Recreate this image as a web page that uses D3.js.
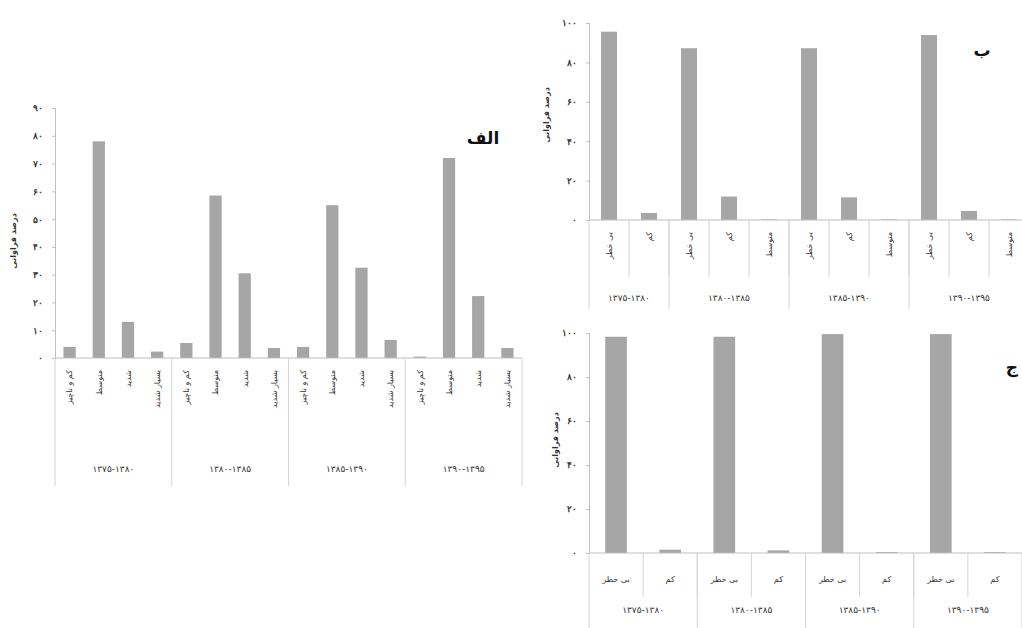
<!DOCTYPE html>
<html>
<head>
<meta charset="utf-8">
<script src="https://cdn.jsdelivr.net/npm/d3@7"></script>
<style>
  html, body { margin: 0; padding: 0; background: #fff; overflow: hidden; }
  svg { display: block; font-family: 'DejaVu Sans', sans-serif; }
</style>
</head>
<body>
<svg id="chart" width="1022" height="628"></svg>
<script>
// periods shared by all three panels
const periods = ['۱۳۷۵-۱۳۸۰', '۱۳۸۰-۱۳۸۵', '۱۳۸۵-۱۳۹۰', '۱۳۹۰-۱۳۹۵'];

// panel الف
const alefCats = [
  ['کم و ناچیز', 'متوسط', 'شدید', 'بسیار شدید'],
  ['کم و ناچیز', 'متوسط', 'شدید', 'بسیار شدید'],
  ['کم و ناچیز', 'متوسط', 'شدید', 'بسیار شدید'],
  ['کم و ناچیز', 'متوسط', 'شدید', 'بسیار شدید'],
];
const alefValues = [
  [4, 78, 13, 2.3],
  [5.4, 58.5, 30.5, 3.6],
  [4, 55, 32.5, 6.5],
  [0.5, 72, 22.3, 3.6],
];
const alefTickValues = [0, 10, 20, 30, 40, 50, 60, 70, 80, 90];
const alefTickLabels = ['۰', '۱۰', '۲۰', '۳۰', '۴۰', '۵۰', '۶۰', '۷۰', '۸۰', '۹۰'];

// panel ب
const beCats = [
  ['بی خطر', 'کم'],
  ['بی خطر', 'کم', 'متوسط'],
  ['بی خطر', 'کم', 'متوسط'],
  ['بی خطر', 'کم', 'متوسط'],
];
const beValues = [
  [95.6, 3.6],
  [87.2, 11.9, 0.3],
  [87.2, 11.5, 0.3],
  [93.9, 4.6, 0.3],
];

// panel ج
const jimCats = [
  ['بی خطر', 'کم'],
  ['بی خطر', 'کم'],
  ['بی خطر', 'کم'],
  ['بی خطر', 'کم'],
];
const jimValues = [
  [98.3, 1.5],
  [98.3, 1.2],
  [99.5, 0.4],
  [99.5, 0.4],
];
const pctTickValues = [0, 20, 40, 60, 80, 100];
const pctTickLabels = ['۰', '۲۰', '۴۰', '۶۰', '۸۰', '۱۰۰'];

const yTitle = 'درصد فراوانی';

const BAR = '#a6a6a6';
const AXIS = '#bfbfbf';
const SEP = '#d4d4d4';
const TEXT = '#333';

const svg = d3.select('#chart');

function drawPanel(cfg) {
  const g = svg.append('g');

  // flatten groups into cells
  const cells = [];
  cfg.cats.forEach((cats, gi) => {
    cats.forEach((c, ci) => cells.push({ group: gi, label: c, value: cfg.values[gi][ci], id: `${gi}-${ci}` }));
  });

  const x = d3.scaleBand().domain(cells.map((d) => d.id)).range([cfg.x0, cfg.x1]).padding(0);
  const y = d3.scaleLinear().domain([0, cfg.max]).range([cfg.y0, cfg.yTop]);

  // y axis
  const yAxis = d3.axisLeft(y)
    .tickValues(cfg.tickValues)
    .tickSize(3)
    .tickPadding(9)
    .tickFormat((d, i) => cfg.tickLabels[i]);
  const ya = g.append('g').attr('transform', `translate(${cfg.x0},0)`).call(yAxis);
  ya.select('.domain').attr('stroke', AXIS);
  ya.selectAll('.tick line').attr('stroke', AXIS);
  ya.selectAll('.tick text')
    .attr('fill', TEXT)
    .style('font-size', '9px')
    .style('font-weight', 'bold');

  // bars
  const bw = x.bandwidth() * cfg.barFrac;
  g.selectAll('rect.bar')
    .data(cells)
    .join('rect')
    .attr('class', 'bar')
    .attr('x', (d) => x(d.id) + (x.bandwidth() - bw) / 2)
    .attr('width', bw)
    .attr('y', (d) => y(d.value))
    .attr('height', (d) => y(0) - y(d.value))
    .attr('fill', BAR);

  // x axis line at zero
  g.append('line')
    .attr('x1', cfg.x0).attr('x2', cfg.x1)
    .attr('y1', y(0)).attr('y2', y(0))
    .attr('stroke', AXIS);

  // cell separators
  if (cfg.cellSepBottom) {
    g.selectAll('line.cellsep')
      .data(cells.filter((d, i) => i > 0))
      .join('line')
      .attr('class', 'cellsep')
      .attr('x1', (d) => x(d.id)).attr('x2', (d) => x(d.id))
      .attr('y1', y(0)).attr('y2', cfg.cellSepBottom)
      .attr('stroke', SEP);
  }

  // group separators
  const groupStarts = [];
  cfg.cats.forEach((cats, gi) => {
    const first = cells.find((d) => d.group === gi);
    const last = cells.filter((d) => d.group === gi).pop();
    groupStarts.push({ gi, left: x(first.id), right: x(last.id) + x.bandwidth() });
  });
  const edges = groupStarts.map((d) => d.left).concat([cfg.x1]);
  g.selectAll('line.groupsep')
    .data(edges)
    .join('line')
    .attr('class', 'groupsep')
    .attr('x1', (d) => d).attr('x2', (d) => d)
    .attr('y1', y(0)).attr('y2', cfg.groupSepBottom)
    .attr('stroke', SEP);

  // category labels
  const cl = g.selectAll('text.cat')
    .data(cells)
    .join('text')
    .attr('class', 'cat')
    .attr('fill', TEXT)
    .style('font-size', '8px')
    .text((d) => d.label);
  if (cfg.rotateCats) {
    cl.attr('text-anchor', 'end')
      .attr('dy', '0.35em')
      .attr('transform', (d) => `translate(${x(d.id) + x.bandwidth() / 2},${y(0) + cfg.catOffset}) rotate(-90)`);
  } else {
    cl.attr('text-anchor', 'middle')
      .attr('x', (d) => x(d.id) + x.bandwidth() / 2)
      .attr('y', y(0) + cfg.catOffset);
  }

  // period labels
  g.selectAll('text.period')
    .data(groupStarts)
    .join('text')
    .attr('class', 'period')
    .attr('fill', TEXT)
    .attr('text-anchor', 'middle')
    .attr('x', (d) => (d.left + d.right) / 2)
    .attr('y', cfg.periodY)
    .style('font-size', '9px')
    .text((d) => periods[d.gi]);

  // y title
  g.append('text')
    .attr('transform', `translate(${cfg.titleX},${cfg.titleY}) rotate(-90)`)
    .attr('text-anchor', 'middle')
    .attr('fill', TEXT)
    .style('font-size', '8px')
    .style('font-weight', 'bold')
    .text(yTitle);

  // panel letter
  g.append('text')
    .attr('x', cfg.letterX)
    .attr('y', cfg.letterY)
    .attr('text-anchor', 'middle')
    .attr('fill', '#111')
    .style('font-size', '17px')
    .style('font-weight', 'bold')
    .text(cfg.letter);
}

drawPanel({
  cats: alefCats, values: alefValues, max: 90,
  tickValues: alefTickValues, tickLabels: alefTickLabels,
  x0: 55, x1: 522, y0: 358, yTop: 108, barFrac: 0.42,
  rotateCats: true, catOffset: 12, cellSepBottom: null, groupSepBottom: 486,
  periodY: 472, titleX: 16, titleY: 241,
  letter: 'الف', letterX: 483, letterY: 144,
});

drawPanel({
  cats: beCats, values: beValues, max: 100,
  tickValues: pctTickValues, tickLabels: pctTickLabels,
  x0: 589, x1: 1029, y0: 220, yTop: 23, barFrac: 0.4,
  rotateCats: true, catOffset: 12, cellSepBottom: 277, groupSepBottom: 309,
  periodY: 301, titleX: 549, titleY: 115,
  letter: 'ب', letterX: 982, letterY: 56,
});

drawPanel({
  cats: jimCats, values: jimValues, max: 100,
  tickValues: pctTickValues, tickLabels: pctTickLabels,
  x0: 589, x1: 1022, y0: 553, yTop: 333, barFrac: 0.4,
  rotateCats: false, catOffset: 29, cellSepBottom: 597, groupSepBottom: 628,
  periodY: 613, titleX: 558, titleY: 440,
  letter: 'ج', letterX: 1012, letterY: 373,
});
</script>
</body>
</html>
